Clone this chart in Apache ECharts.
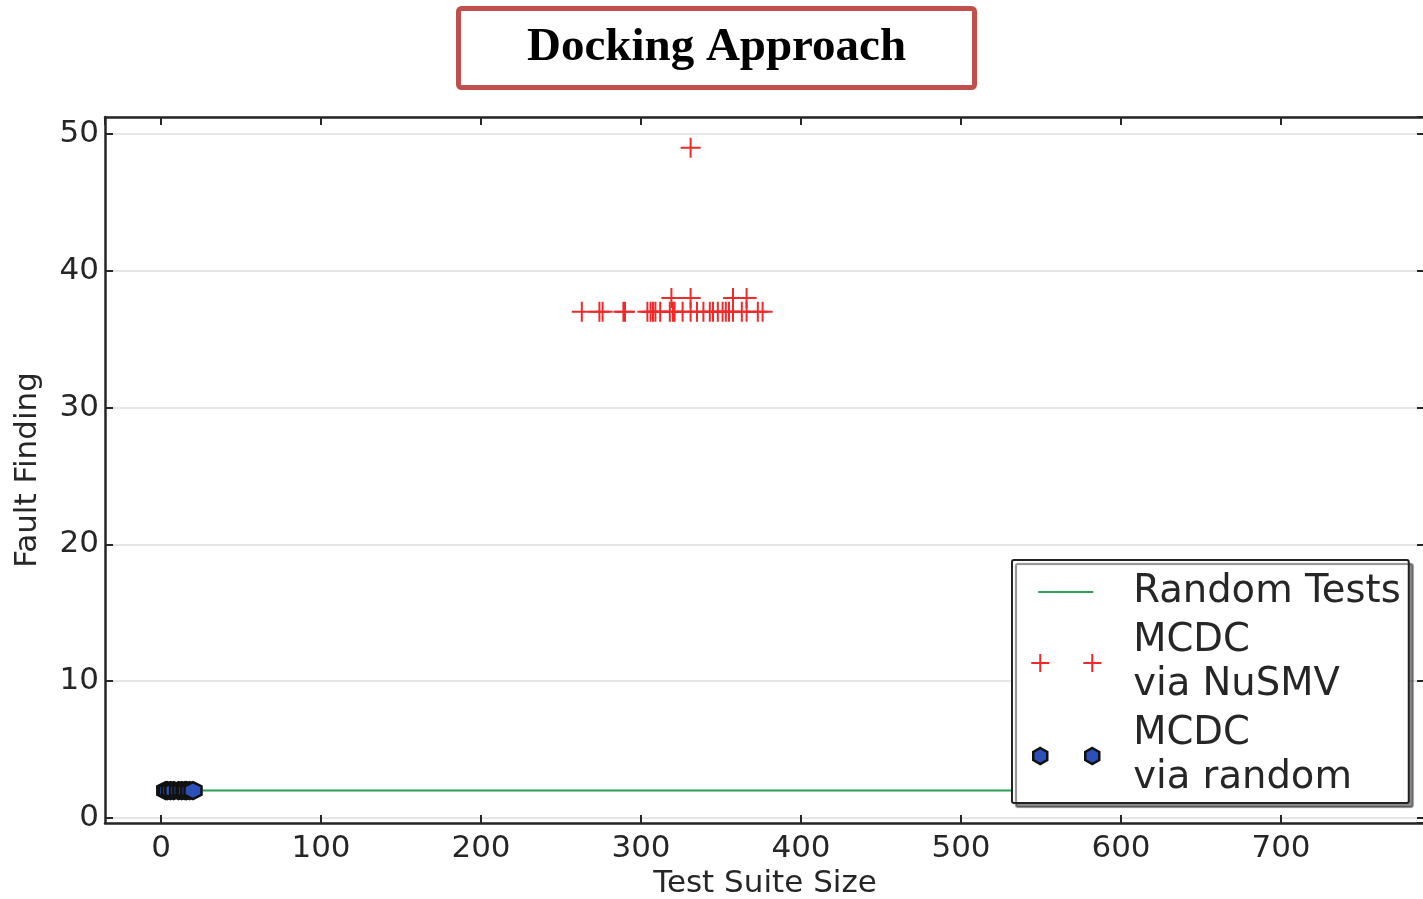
<!DOCTYPE html>
<html>
<head>
<meta charset="utf-8">
<title>Docking Approach</title>
<script src="https://cdn.jsdelivr.net/npm/echarts@6/dist/echarts.min.js"></script>
<style>
    html, body { margin: 0; padding: 0; background: #fff; }
    #chart { width: 1423px; height: 899px; }
</style>
</head>
<body>
<div id="chart"></div>
<script>
// 数据
var seriesNames = ["Random Tests", "MCDC\nvia NuSMV", "MCDC\nvia random"];
// Random Tests: 一条水平线
var randomX = [1, 760];
var randomY = [2, 2];
// MCDC via NuSMV: 按故障数分组的测试集大小
var nusmvX37 = [263, 274, 276, 289, 290, 304, 306, 307.5, 309, 312, 318, 320, 321, 326, 331, 335, 339, 343, 345, 348, 351, 353, 355, 357.5, 363, 366, 373, 376];
var nusmvX38 = [319, 331, 357.5, 366];
var nusmvX49 = [331];
// MCDC via random
var mrandomX = [3, 4, 6, 8, 11, 13, 15, 16, 18, 20];
var mrandomY = 2;

var green = "#2e9e57", red = "#ee2a2a", blue = "#2b50b8", ink = "#262626";

function pairs(xs, y) {
    var out = [];
    for (var i = 0; i < xs.length; i++) out.push([xs[i], y]);
    return out;
}
var randomData = randomX.map(function (x, i) { return [x, randomY[i]]; });
var nusmvData = pairs(nusmvX37, 37).concat(pairs(nusmvX38, 38), pairs(nusmvX49, 49));
var mrandomData = pairs(mrandomX, mrandomY);

// 标记形状
var crossPath = "path://M0,9H20V11H0Z M9,0H11V20H9Z";
var hexPath = "path://M10,0L18.66,5L18.66,15L10,20L1.34,15L1.34,5Z";
// 图例图标 (两个标记, 右边留空给文字)
var box = " M0,0Z M97,20Z";
var legLine = "path://M7,9H62V11H7Z" + box;
var legCross = "path://M0,9H18V11H0Z M8,1H10V19H8Z M52,9H70V11H52Z M60,1H62V19H60Z" + box;
var legHex = "path://M9,2L16,6L16,14L9,18L2,14L2,6Z M61,2L68,6L68,14L61,18L54,14L54,6Z" + box;

var frame = { show: true, onZero: false, lineStyle: { color: ink, width: 2.5 } };
var ticks = { show: true, inside: true, length: 8, lineStyle: { color: ink, width: 2 } };
var labelFont = { fontFamily: "DejaVu Sans", fontSize: 31, color: ink };

var chart = echarts.init(document.getElementById("chart"));
var option = {
    animation: false,
    backgroundColor: "#fff",
    title: {
        text: "Docking Approach",
        left: 458,
        top: 8,
        padding: [12, 69, 12, 69],
        borderColor: "#c0504d",
        borderWidth: 5,
        borderRadius: 3,
        textStyle: {
            fontFamily: "Liberation Serif",
            fontWeight: "bold",
            fontSize: 47,
            lineHeight: 56,
            color: "#000"
        }
    },
    grid: { left: 105, right: -2, top: 117, bottom: 76, containLabel: false, outerBoundsMode: "none" },
    xAxis: [{
        type: "value",
        min: -35,
        max: 790,
        splitNumber: 8,
        name: "Test Suite Size",
        nameLocation: "middle",
        nameGap: 43,
        nameTextStyle: labelFont,
        axisLine: frame,
        axisTick: ticks,
        axisLabel: Object.assign({ margin: 10, showMinLabel: false, showMaxLabel: false }, labelFont),
        splitLine: { show: false }
    }, {
        type: "value",
        position: "top",
        min: -35,
        max: 790,
        splitNumber: 8,
        axisLine: frame,
        axisTick: ticks,
        axisLabel: { show: false },
        splitLine: { show: false }
    }],
    yAxis: [{
        type: "value",
        min: -0.37,
        max: 51.24,
        splitNumber: 5,
        name: "Fault Finding",
        nameLocation: "middle",
        nameGap: 62,
        nameTextStyle: labelFont,
        axisLine: frame,
        axisTick: ticks,
        axisLabel: Object.assign({ margin: 6, showMinLabel: false, showMaxLabel: false }, labelFont),
        splitLine: { show: true, lineStyle: { color: "#e6e6e6", width: 2 } }
    }, {
        type: "value",
        position: "right",
        min: -0.37,
        max: 51.24,
        splitNumber: 5,
        axisLine: frame,
        axisTick: ticks,
        axisLabel: { show: false },
        splitLine: { show: false }
    }],
    legend: {
        orient: "vertical",
        left: 1012,
        top: 560,
        padding: [10, 8, 3, 18],
        itemGap: 5,
        itemWidth: 97,
        itemHeight: 20,
        backgroundColor: "#fff",
        borderColor: "#222",
        borderWidth: 2,
        borderRadius: 2,
        shadowColor: "rgba(0,0,0,0.45)",
        shadowOffsetX: 4,
        shadowOffsetY: 4,
        shadowBlur: 1,
        textStyle: { fontFamily: "DejaVu Sans", fontSize: 38.5, lineHeight: 44, color: ink },
        data: [
            { name: seriesNames[0], icon: legLine, itemStyle: { color: green, borderWidth: 0 } },
            { name: seriesNames[1], icon: legCross, itemStyle: { color: red, borderWidth: 0 } },
            { name: seriesNames[2], icon: legHex, itemStyle: { color: blue, borderColor: "#111", borderWidth: 2.5 } }
        ]
    },
    series: [{
        name: seriesNames[0],
        type: "line",
        data: randomData,
        symbol: "none",
        z: 2,
        lineStyle: { color: green, width: 2 },
        itemStyle: { color: green }
    }, {
        name: seriesNames[1],
        type: "scatter",
        data: nusmvData,
        symbol: crossPath,
        symbolSize: 20,
        z: 3,
        itemStyle: { color: red, opacity: 1 }
    }, {
        name: seriesNames[2],
        type: "scatter",
        data: mrandomData,
        symbol: hexPath,
        symbolSize: 17,
        z: 4,
        itemStyle: { color: blue, borderColor: "#111", borderWidth: 2.5, opacity: 1 }
    }]
};
chart.setOption(option);
</script>
</body>
</html>
